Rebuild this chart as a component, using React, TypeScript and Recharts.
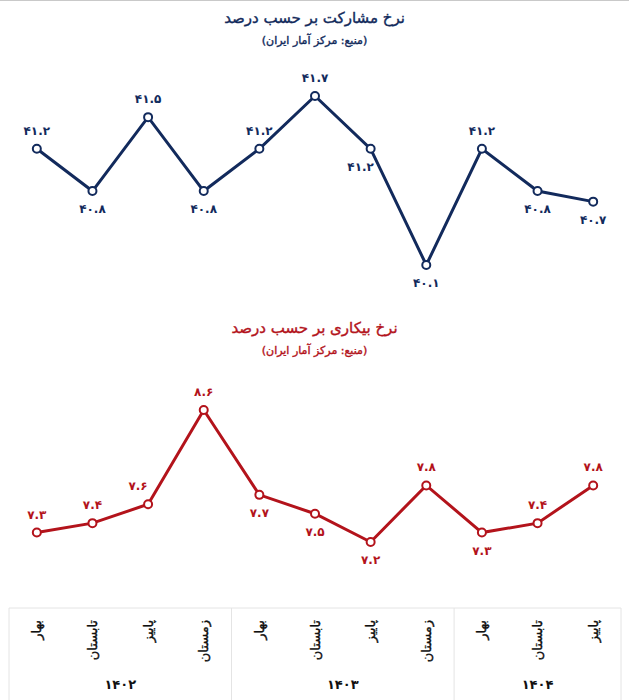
import React from "react";
import { LineChart, Line, XAxis, YAxis, LabelList } from "recharts";

// seasons per quarter, 1402 Q1 .. 1404 Q3
const seasons = [
  "بهار", "تابستان", "پاییز", "زمستان",
  "بهار", "تابستان", "پاییز", "زمستان",
  "بهار", "تابستان", "پاییز",
];
const yearOfQuarter = [
  "1402", "1402", "1402", "1402",
  "1403", "1403", "1403", "1403",
  "1404", "1404", "1404",
];
const participation = [41.2, 40.8, 41.5, 40.8, 41.2, 41.7, 41.2, 40.1, 41.2, 40.8, 40.7];
const unemployment = [7.3, 7.4, 7.6, 8.6, 7.7, 7.5, 7.2, 7.8, 7.3, 7.4, 7.8];

const participationTitle = "نرخ مشارکت بر حسب درصد";
const unemploymentTitle = "نرخ بیکاری بر حسب درصد";
const sourceNote = "(منبع: مرکز آمار ایران)";

const W = 629;
const LEFT = 9;
const RIGHT = 8;
const PLOT_W = W - LEFT - RIGHT;
const HALF_BAND = PLOT_W / seasons.length / 2;
const NAVY = "#122a5c";
const RED = "#b3131b";
const GRID = "#e4e4e4";
const FONT = "'DejaVu Sans', sans-serif";

const faDigits = "۰۱۲۳۴۵۶۷۸۹";
const toFa = (s: string) => s.replace(/\d/g, (d) => faDigits[Number(d)]);

const data = seasons.map((s, i) => ({
  key: i,
  season: s,
  participation: participation[i],
  unemployment: unemployment[i],
}));

// label above when the value rose from the previous quarter, below otherwise;
// nudged left when the next segment runs steeply through the label
const makeLabel = (values: number[], domain: [number, number], color: string) => (props: any) => {
  const { x, y, index, value } = props;
  if (x == null || y == null) return null;
  const up = index === 0 || values[index] >= values[index - 1];
  const next = values[index + 1];
  let dx = 0;
  if (next != null) {
    const change = (next - values[index]) / (domain[1] - domain[0]);
    if ((up && change > 0.4) || (!up && change < -0.4)) dx = -10;
  }
  return (
    <text
      x={x + dx}
      y={y + (up ? -18 : 18)}
      textAnchor="middle"
      dominantBaseline="central"
      fill={color}
      fontSize={12}
      fontWeight="bold"
      fontFamily={FONT}
    >
      {toFa(Number(value).toFixed(1))}
    </text>
  );
};

const QuarterTick = (props: any) => {
  const { x, y, payload } = props;
  const i: number = payload.index;
  const yr = yearOfQuarter[i];
  const first = i === 0 || yearOfQuarter[i - 1] !== yr;
  const last = i === seasons.length - 1;
  const count = yearOfQuarter.filter((v) => v === yr).length;
  return (
    <g>
      <text
        transform={`translate(${x},${y + 12}) rotate(-90)`}
        textAnchor="end"
        dominantBaseline="central"
        fill="#111"
        stroke="#111"
        strokeWidth={0.35}
        fontSize={13}
        fontFamily={FONT}
      >
        {seasons[i]}
      </text>
      {first && (
        <line x1={x - HALF_BAND} x2={x - HALF_BAND} y1={y} y2={y + 92} stroke={GRID} />
      )}
      {last && (
        <line x1={x + HALF_BAND} x2={x + HALF_BAND} y1={y} y2={y + 92} stroke={GRID} />
      )}
      {first && (
        <text
          x={x - HALF_BAND + count * HALF_BAND}
          y={y + 76}
          textAnchor="middle"
          dominantBaseline="central"
          fill="#111"
          fontSize={13}
          fontWeight="bold"
          fontFamily={FONT}
        >
          {toFa(yr)}
        </text>
      )}
    </g>
  );
};

const Title = ({ top, text, sub, color }: { top: number; text: string; sub: string; color: string }) => (
  <div
    style={{
      position: "absolute",
      top,
      left: 0,
      width: W,
      textAlign: "center",
      direction: "rtl",
      fontFamily: FONT,
      color,
      WebkitTextStroke: `0.4px ${color}`,
    }}
  >
    <div style={{ fontSize: 15, lineHeight: "20px" }}>{text}</div>
    <div style={{ fontSize: 11, lineHeight: "16px", marginTop: 5 }}>{sub}</div>
  </div>
);

export default function App() {
  return (
    <div
      style={{
        position: "relative",
        width: W,
        height: 700,
        background: "#fff",
        overflow: "hidden",
        borderTop: "1px solid #c9c9c9",
        boxSizing: "border-box",
      }}
    >
      <style>{"body{margin:0}"}</style>
      <Title top={7} text={participationTitle} sub={sourceNote} color={NAVY} />
      <Title top={317} text={unemploymentTitle} sub={sourceNote} color={RED} />

      <div style={{ position: "absolute", top: -1, left: 0 }}>
        <LineChart
          width={W}
          height={300}
          data={data}
          margin={{ top: 96, right: RIGHT, bottom: 35, left: LEFT }}
        >
          <XAxis dataKey="key" hide padding={{ left: HALF_BAND, right: HALF_BAND }} />
          <YAxis hide domain={[40.1, 41.7]} />
          <Line
            type="linear"
            dataKey="participation"
            stroke={NAVY}
            strokeWidth={3}
            dot={{ r: 4, stroke: NAVY, strokeWidth: 2, fill: "#fff" }}
            activeDot={false}
            isAnimationActive={false}
          >
            <LabelList
              dataKey="participation"
              content={makeLabel(participation, [40.1, 41.7], NAVY)}
            />
          </Line>
        </LineChart>
      </div>

      <div style={{ position: "absolute", top: 299, left: 0 }}>
        <LineChart
          width={W}
          height={400}
          data={data}
          margin={{ top: 110, right: RIGHT, bottom: 0, left: LEFT }}
        >
          <XAxis
            dataKey="key"
            height={92}
            padding={{ left: HALF_BAND, right: HALF_BAND }}
            axisLine={{ stroke: GRID }}
            tickLine={false}
            tickSize={0}
            tickMargin={0}
            interval={0}
            tick={<QuarterTick />}
          />
          <YAxis hide domain={[6.5, 8.6]} />
          <Line
            type="linear"
            dataKey="unemployment"
            stroke={RED}
            strokeWidth={3}
            dot={{ r: 4, stroke: RED, strokeWidth: 2, fill: "#fff" }}
            activeDot={false}
            isAnimationActive={false}
          >
            <LabelList
              dataKey="unemployment"
              content={makeLabel(unemployment, [6.5, 8.6], RED)}
            />
          </Line>
        </LineChart>
      </div>
    </div>
  );
}
